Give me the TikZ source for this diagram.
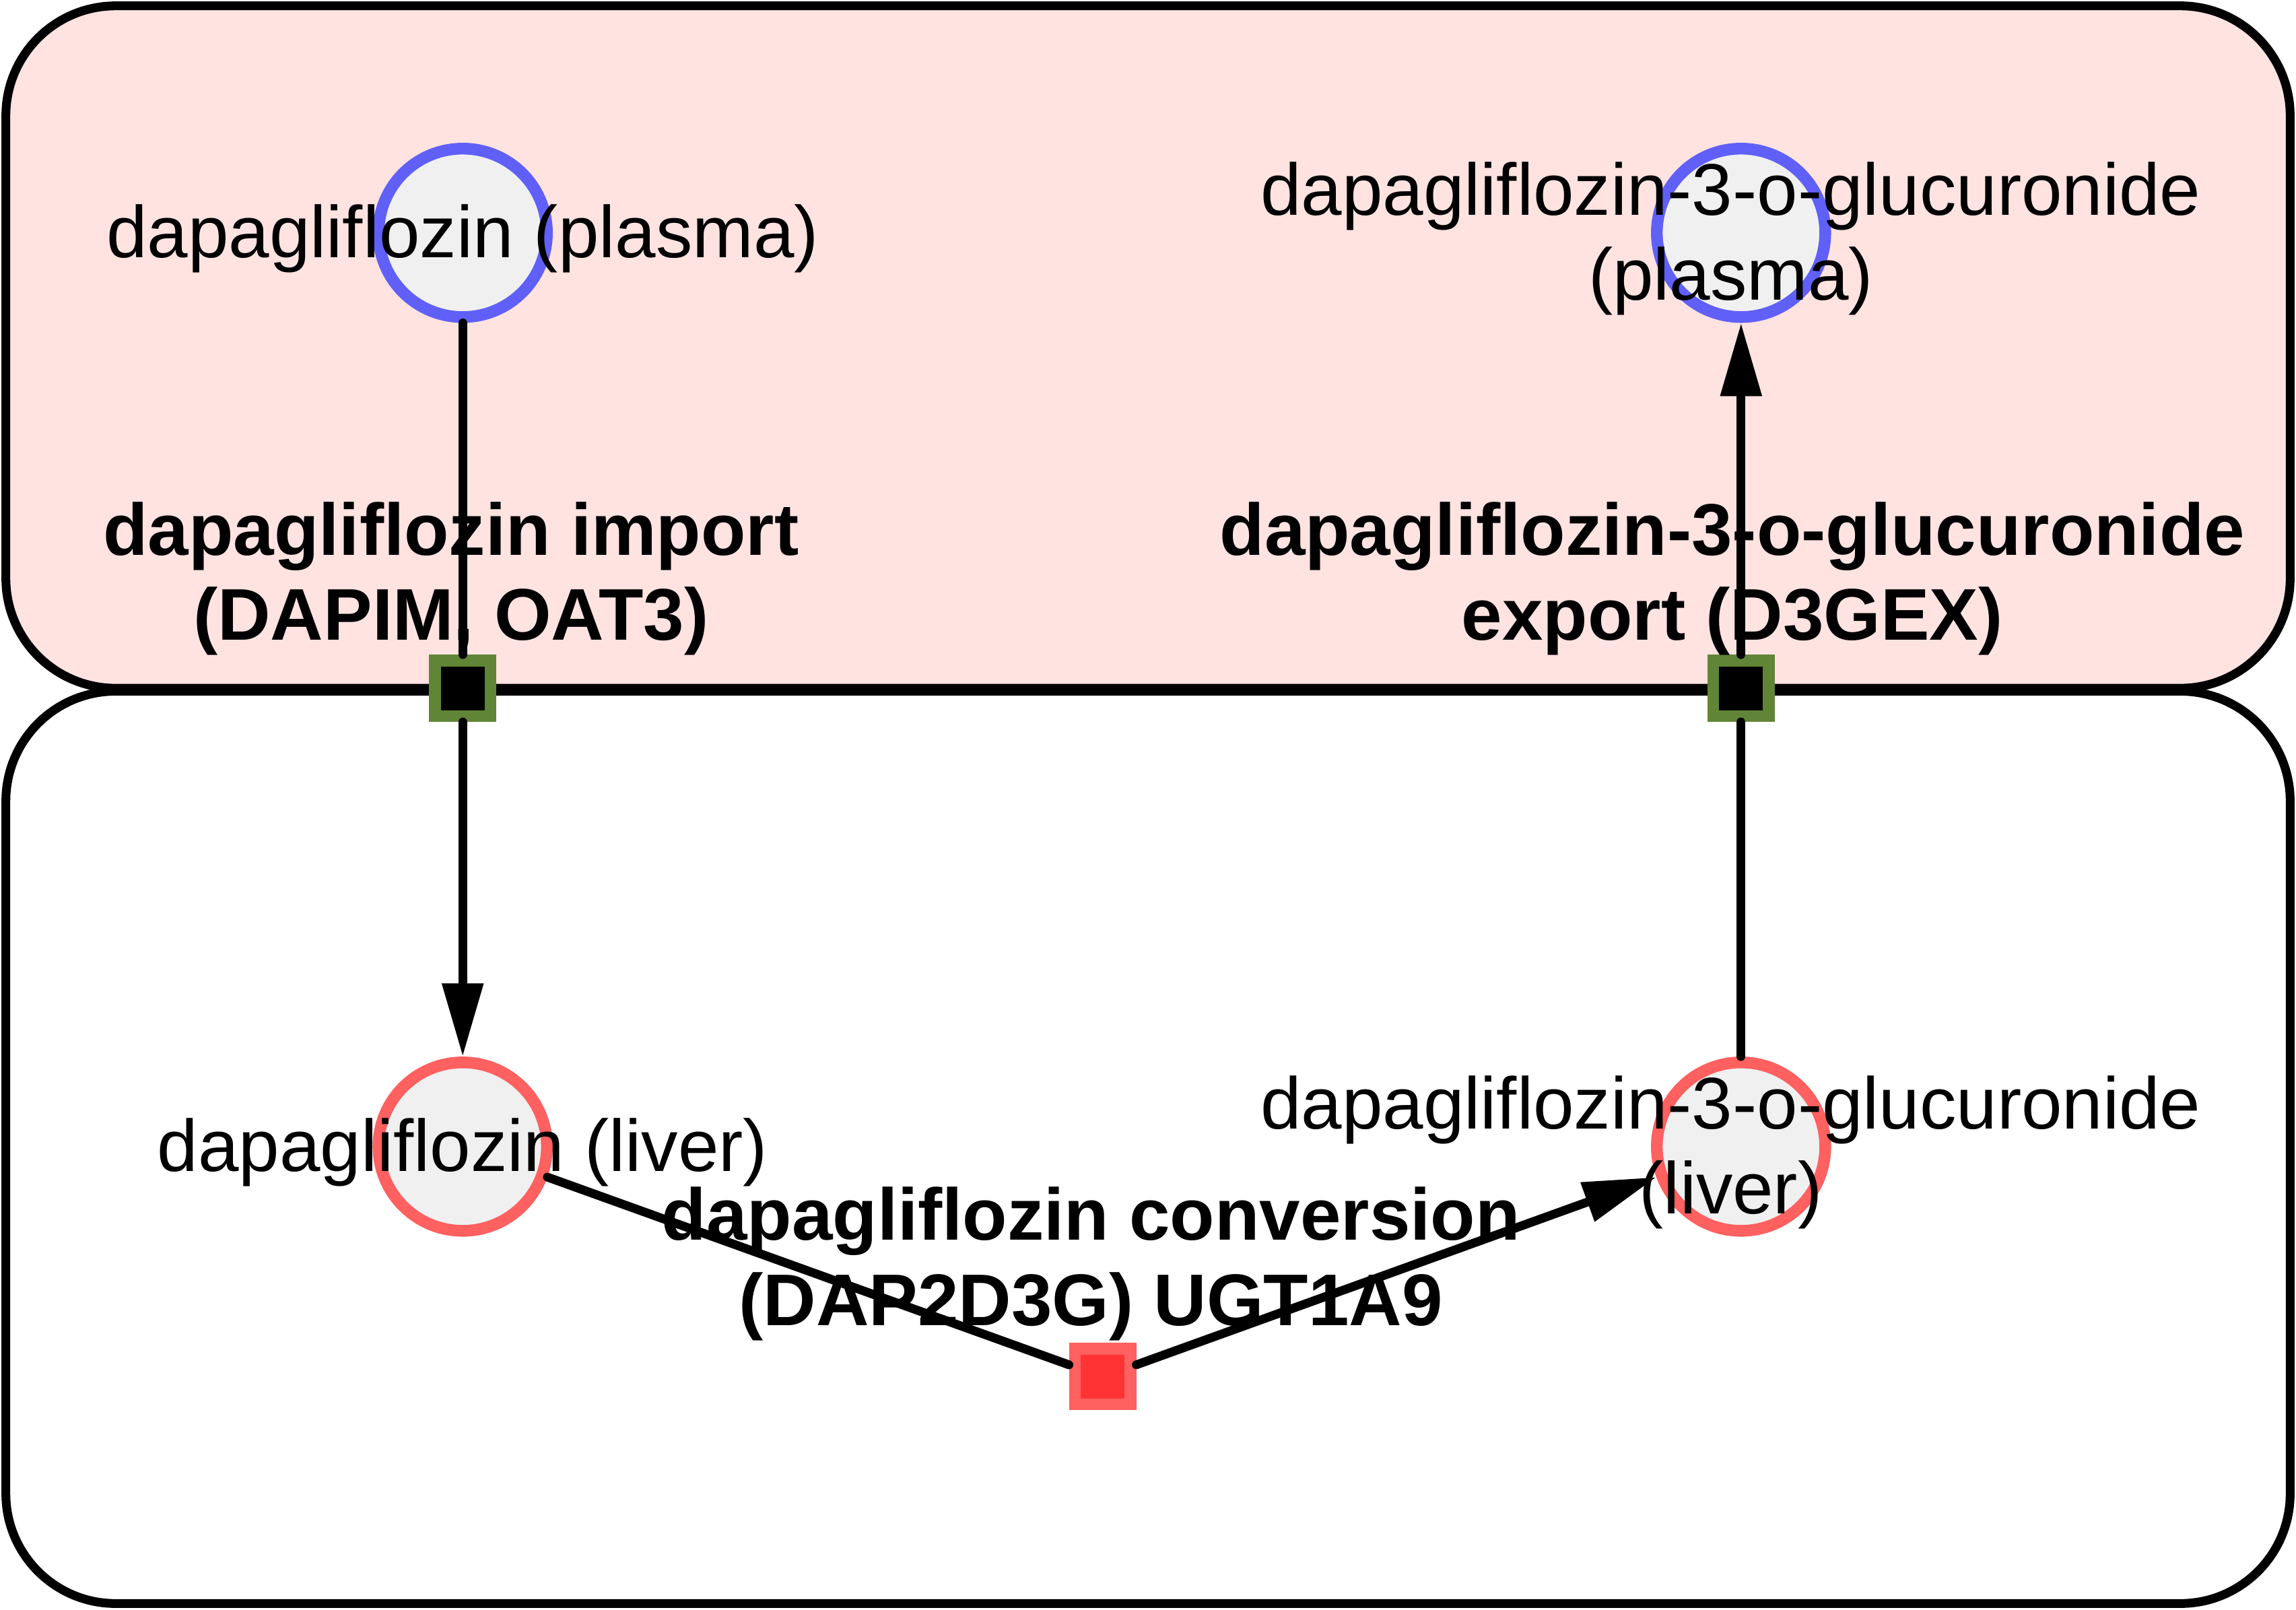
\documentclass[tikz,border=0pt]{standalone}
\usepackage{fontspec}
\setmainfont{Liberation Sans}
\usetikzlibrary{arrows.meta}
\definecolor{plasmafill}{HTML}{FFE3E1}
\definecolor{spfill}{HTML}{F0F0F0}
\definecolor{plasmablue}{HTML}{6060F8}
\definecolor{liverred}{HTML}{FF6060}
\definecolor{transgreen}{HTML}{618536}
\definecolor{reacfill}{HTML}{FF3333}

\begin{document}
\begin{tikzpicture}[x=1pt,y=-1pt,
  comp/.style={draw=black,line width=6pt,rounded corners=75pt},
  species/.style={circle,draw,line width=8pt,fill=spfill,minimum size=115pt,inner sep=0pt},
  plasma/.style={species,draw=plasmablue},
  liver/.style={species,draw=liverred},
  transport/.style={rectangle,draw=transgreen,fill=black,line width=8pt,minimum size=38pt,inner sep=0pt},
  reaction/.style={rectangle,draw=liverred,fill=reacfill,line width=8pt,minimum size=38pt,inner sep=0pt},
  link/.style={line width=6pt,line cap=round},
  flow/.style={link,-{Triangle[length=50pt,width=27pt]}},
  spname/.style={font=\fontsize{50pt}{58pt}\selectfont,align=center,inner sep=0pt},
  rxname/.style={font=\fontsize{50pt}{58pt}\selectfont\bfseries,align=center,inner sep=0pt}]
  \useasboundingbox (0,0) rectangle (1568,1099.4);

  % Kompartimente
  \draw[comp,fill=plasmafill] (4,4) rectangle (1564,470);
  \draw[comp,fill=white] (4,472) rectangle (1564,1095);

  % Spezies
  \node[plasma] (dapPlasma) at (316,159) {};
  \node[plasma] (d3gPlasma) at (1189,159) {};
  \node[liver] (dapLiver) at (316,783) {};
  \node[liver] (d3gLiver) at (1189,783) {};

  % Reaktionen
  \node[transport] (dapim) at (316,470) {};
  \node[transport] (d3gex) at (1189,470) {};
  \node[reaction] (dap2d3g) at (753,940) {};

  % Kanten
  \draw[link] (dapPlasma) -- (dapim);
  \draw[flow] (dapim) -- (dapLiver);
  \draw[link] (d3gLiver) -- (d3gex);
  \draw[flow] (d3gex) -- (d3gPlasma);
  \draw[link] (dapLiver) -- ([yshift=8pt]dap2d3g.west);
  \draw[flow] ([yshift=8pt]dap2d3g.east) -- (d3gLiver);

  % Beschriftung
  \node[spname] (dapPlasmaTxt) at ([yshift=-4pt]dapPlasma) {dapagliflozin (plasma)};
  \node[spname] (d3gPlasmaTxt) at ([xshift=-7pt,yshift=-4pt]d3gPlasma) {dapagliflozin-3-o-glucuronide\\(plasma)};
  \node[spname] (dapLiverTxt) at ([yshift=-4pt]dapLiver) {dapagliflozin (liver)};
  \node[spname] (d3gLiverTxt) at ([xshift=-7pt,yshift=-4pt]d3gLiver) {dapagliflozin-3-o-glucuronide\\(liver)};
  \node[rxname] (dapimTxt) at ([xshift=-8pt,yshift=75pt]dapim) {dapagliflozin import\\(DAPIM, OAT3)};
  \node[rxname] (d3gexTxt) at ([xshift=-6pt,yshift=75pt]d3gex) {dapagliflozin-3-o-glucuronide\\export (D3GEX)};
  \node[rxname] (dap2d3gTxt) at ([xshift=-8pt,yshift=77pt]dap2d3g) {dapagliflozin conversion\\(DAP2D3G) UGT1A9};
\end{tikzpicture}
\end{document}
